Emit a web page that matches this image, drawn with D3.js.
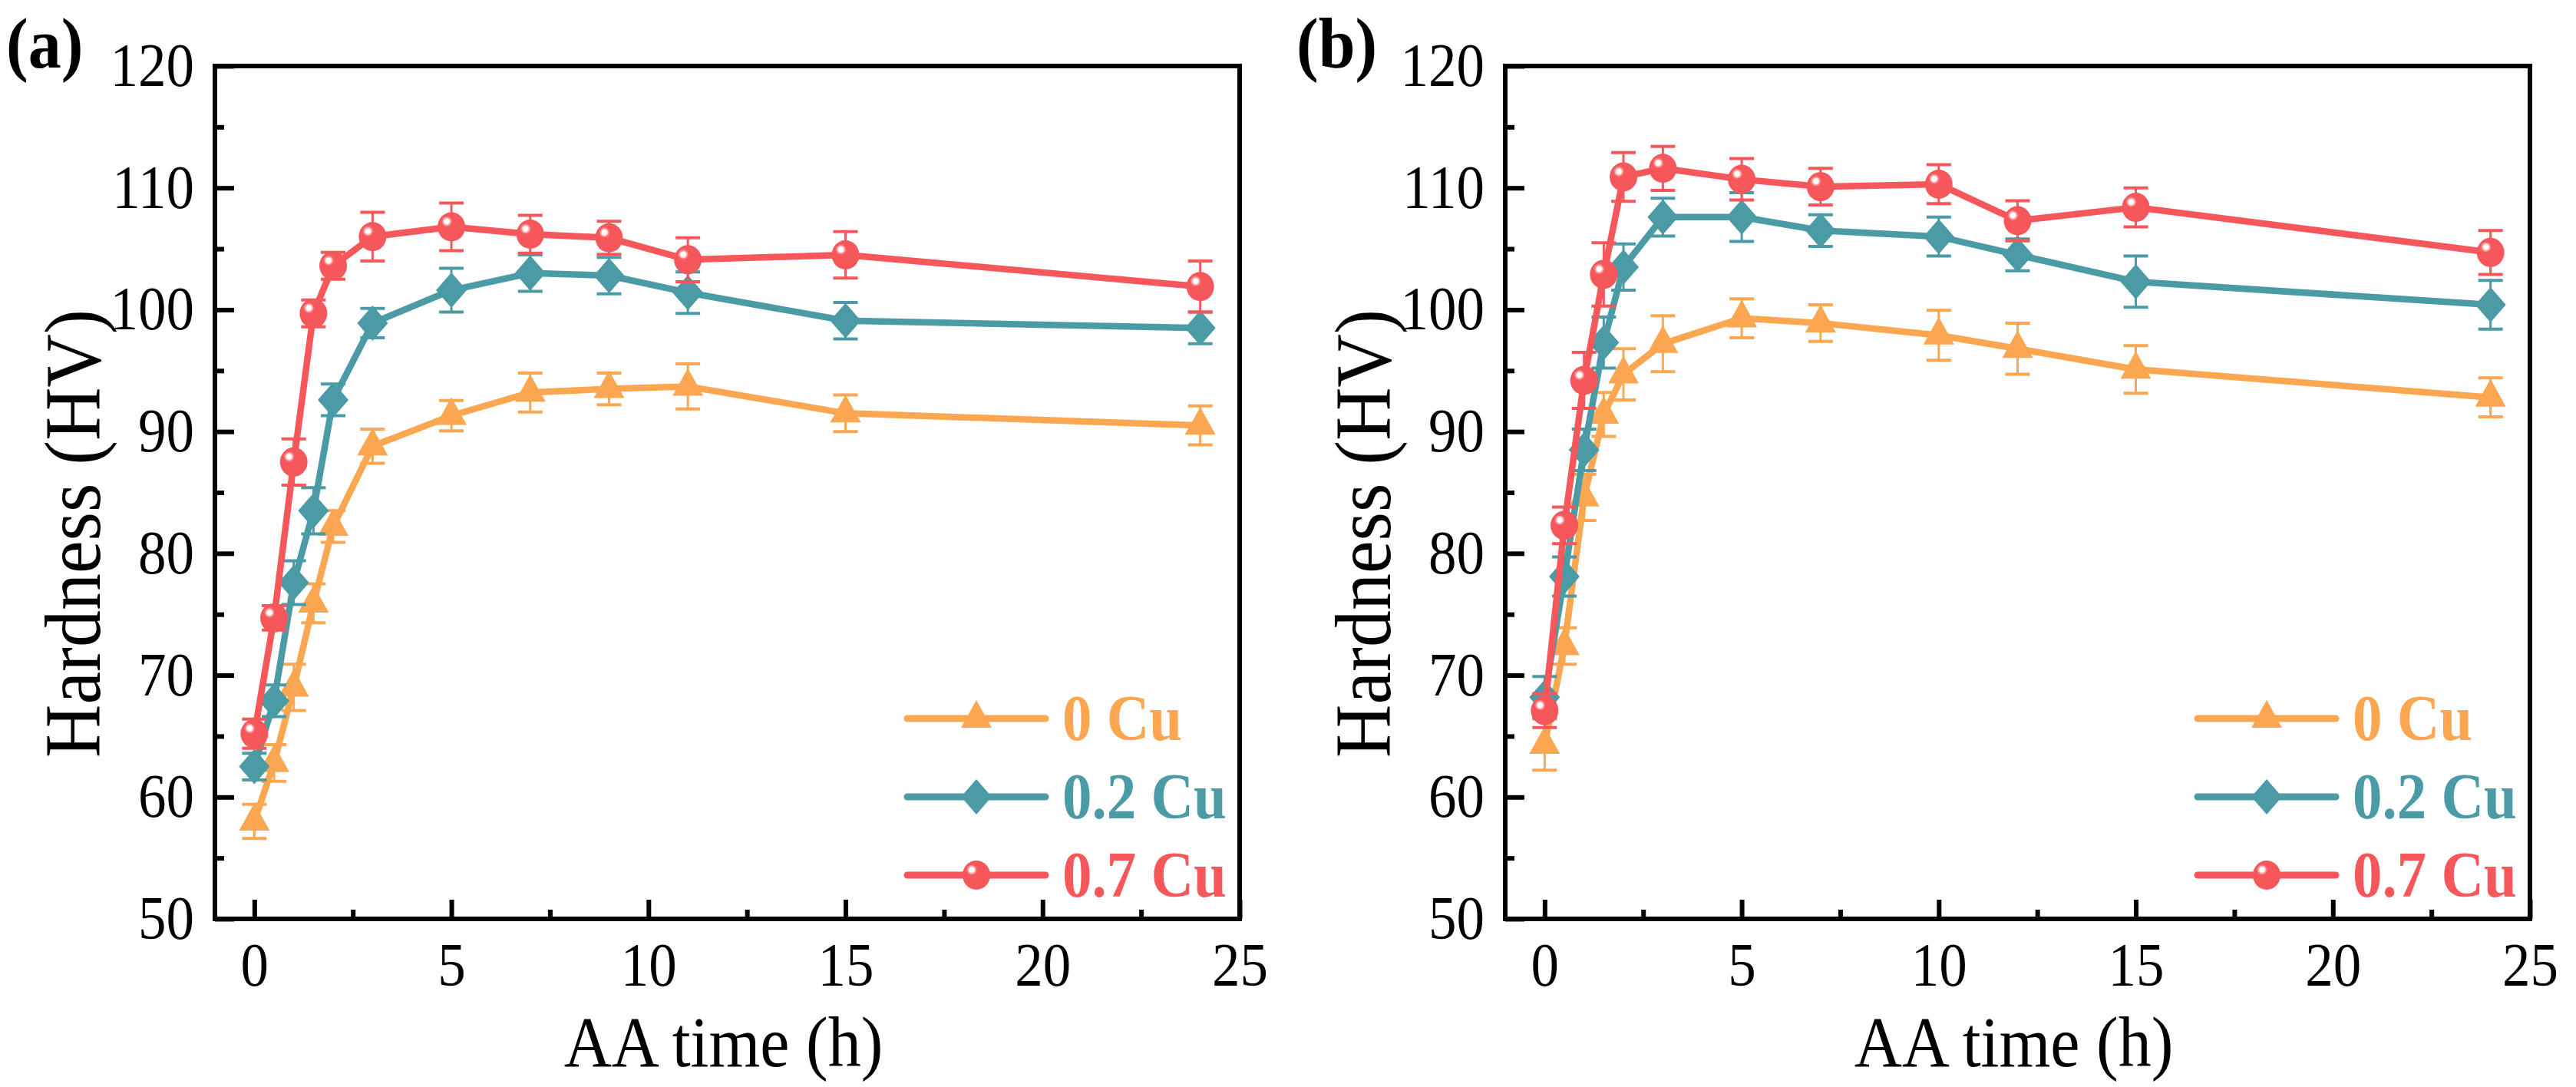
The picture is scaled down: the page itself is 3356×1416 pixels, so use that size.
<!DOCTYPE html>
<html>
<head>
<meta charset="utf-8">
<script src="https://cdn.jsdelivr.net/npm/d3@7"></script>
<style>
  html, body { margin: 0; padding: 0; background: #fff; }
</style>
</head>
<body>
<div id="chart"></div>
<script>
// ---- data ----
const timesA = [0, 0.5, 1, 1.5, 2, 3, 5, 7, 9, 11, 15, 24];
const timesB = [0, 0.5, 1, 1.5, 2, 3, 5, 7, 10, 12, 15, 24];

const cu0A    = [58.0, 62.8, 69.0, 75.9, 82.2, 88.8, 91.3, 93.2, 93.5, 93.7, 91.5, 90.5];
const cu0AErr = [1.4, 1.5, 1.9, 1.6, 1.3, 1.4, 1.25, 1.6, 1.3, 1.85, 1.5, 1.6];
const cu02A    = [62.5, 67.9, 77.6, 83.5, 92.6, 98.9, 101.6, 103.0, 102.8, 101.4, 99.1, 98.5];
const cu02AErr = [1.1, 1.3, 1.8, 1.9, 1.3, 1.2, 1.8, 1.5, 1.5, 1.7, 1.5, 1.3];
const cu07A    = [65.2, 74.7, 87.5, 99.7, 103.6, 106.0, 106.8, 106.2, 105.9, 104.1, 104.5, 101.9];
const cu07AErr = [1.2, 1.0, 1.9, 1.1, 1.1, 2.0, 1.95, 1.55, 1.35, 1.8, 1.9, 2.1];

const cu0B    = [64.3, 72.4, 84.6, 91.4, 94.7, 97.2, 99.3, 98.9, 97.9, 96.8, 95.1, 92.8];
const cu0BErr = [2.1, 1.5, 1.9, 1.8, 2.1, 2.3, 1.6, 1.5, 2.05, 2.1, 1.95, 1.6];
const cu02B    = [68.2, 78.1, 88.5, 97.3, 103.5, 107.6, 107.6, 106.5, 106.0, 104.5, 102.3, 100.4];
const cu02BErr = [1.7, 1.6, 1.7, 2.1, 1.9, 1.55, 2.0, 1.3, 1.6, 1.3, 2.1, 2.0];
const cu07B    = [67.1, 82.3, 94.2, 102.9, 110.9, 111.6, 110.7, 110.1, 110.3, 107.3, 108.4, 104.7];
const cu07BErr = [1.4, 1.5, 2.3, 2.6, 2.0, 1.8, 1.7, 1.5, 1.6, 1.65, 1.6, 1.8];

const seriesNames = ['0 Cu', '0.2 Cu', '0.7 Cu'];
const seriesColors = ['#FBA651', '#4B9BA6', '#F5575A'];
const seriesShapes = ['triangle', 'diamond', 'sphere'];

const xTicks = [0, 5, 10, 15, 20, 25];
const xMinor = [2.5, 7.5, 12.5, 17.5, 22.5];
const yTicks = [50, 60, 70, 80, 90, 100, 110, 120];
const yMinor = [55, 65, 75, 85, 95, 105, 115];

const panels = [
    { label: '(a)', left: 280, times: timesA,
      values: [cu0A, cu02A, cu07A], errors: [cu0AErr, cu02AErr, cu07AErr] },
    { label: '(b)', left: 1961, times: timesB,
      values: [cu0B, cu02B, cu07B], errors: [cu0BErr, cu02BErr, cu07BErr] }
];

// ---- layout ----
const svgWidth = 3356, svgHeight = 1416;
const plotW = 1335, plotTop = 86, plotBottom = 1197;
const FONT = 'Liberation Serif';
const stretch = 1.09; // glyphs in the figure are a bit taller than wide

const svg = d3.select('#chart').append('svg')
    .attr('width', svgWidth)
    .attr('height', svgHeight)
    .attr('font-family', FONT);

// glossy highlight for the sphere markers
const defs = svg.append('defs');
const glow = defs.append('radialGradient').attr('id', 'shine');
glow.append('stop').attr('offset', '0%').attr('stop-color', '#ffffff');
glow.append('stop').attr('offset', '35%').attr('stop-color', '#ffffff');
glow.append('stop').attr('offset', '55%').attr('stop-color', '#fbc0c1');
glow.append('stop').attr('offset', '100%').attr('stop-color', '#f5575a').attr('stop-opacity', 0);

function drawMarker(g, shape, color) {
    if (shape === 'triangle') {
        const w = 40, h = 36;
        g.append('path')
            .attr('d', `M0,${-2 * h / 3}L${w / 2},${h / 3}L${-w / 2},${h / 3}Z`)
            .attr('fill', color);
    } else if (shape === 'diamond') {
        g.append('path')
            .attr('d', 'M0,-23L20,0L0,23L-20,0Z')
            .attr('fill', color);
    } else {
        g.append('ellipse').attr('rx', 18).attr('ry', 19).attr('fill', color);
        g.append('circle').attr('cx', -6).attr('cy', -7).attr('r', 8).attr('fill', 'url(#shine)');
    }
}

function addText(g, x, y, str, size, opts = {}) {
    return g.append('text')
        .attr('transform', `translate(${x},${y}) ${opts.rotate ? 'rotate(-90)' : ''} scale(1,${stretch})`)
        .attr('text-anchor', opts.anchor || 'start')
        .attr('font-family', FONT)
        .attr('font-size', size)
        .attr('font-weight', opts.bold ? 'bold' : 'normal')
        .attr('fill', opts.color || '#000')
        .text(str);
}

function drawPanel(p) {
    const x = d3.scaleLinear().domain([-1, 25]).range([p.left, p.left + plotW]);
    const y = d3.scaleLinear().domain([50, 120]).range([plotBottom, plotTop]);

    const g = svg.append('g');

    // axes (ticks point inward, only on left and bottom)
    const xAxis = g.append('g')
        .attr('transform', `translate(0,${plotBottom})`)
        .call(d3.axisBottom(x).tickValues(xTicks).tickSizeInner(-25).tickSizeOuter(0).tickPadding(28));
    const xAxisMinor = g.append('g')
        .attr('transform', `translate(0,${plotBottom})`)
        .call(d3.axisBottom(x).tickValues(xMinor).tickSizeInner(-12).tickSizeOuter(0).tickFormat(''));
    const yAxis = g.append('g')
        .attr('transform', `translate(${p.left},0)`)
        .call(d3.axisLeft(y).tickValues(yTicks).tickSizeInner(-25).tickSizeOuter(0).tickPadding(27));
    const yAxisMinor = g.append('g')
        .attr('transform', `translate(${p.left},0)`)
        .call(d3.axisLeft(y).tickValues(yMinor).tickSizeInner(-12).tickSizeOuter(0).tickFormat(''));

    for (let a of [xAxis, xAxisMinor, yAxis, yAxisMinor]) {
        a.attr('font-family', FONT).attr('font-size', 73);
        a.select('.domain').remove();
        a.selectAll('.tick line').attr('stroke', '#000').attr('stroke-width', 6);
        a.selectAll('.tick text')
            .attr('fill', '#000')
            .attr('transform', `scale(1,${stretch})`);
    }

    // frame
    g.append('rect')
        .attr('x', p.left)
        .attr('y', plotTop)
        .attr('width', plotW)
        .attr('height', plotBottom - plotTop)
        .attr('fill', 'none')
        .attr('stroke', '#000')
        .attr('stroke-width', 6);

    // series: line, error bars, markers (red drawn last, on top)
    const line = d3.line()
        .x(d => x(d[0]))
        .y(d => y(d[1]));

    p.values.forEach((vals, i) => {
        const color = seriesColors[i];
        const pts = p.times.map((t, k) => [t, vals[k], p.errors[i][k]]);
        const sg = g.append('g');

        sg.append('path')
            .datum(pts)
            .attr('d', line)
            .attr('fill', 'none')
            .attr('stroke', color)
            .attr('stroke-width', 8.5)
            .attr('stroke-linejoin', 'round');

        const eb = sg.selectAll('.err')
            .data(pts)
            .enter()
            .append('g')
            .attr('stroke', color);
        eb.append('line')
            .attr('x1', d => x(d[0])).attr('x2', d => x(d[0]))
            .attr('y1', d => y(d[1] - d[2])).attr('y2', d => y(d[1] + d[2]))
            .attr('stroke-width', 3);
        eb.append('line')
            .attr('x1', d => x(d[0]) - 16).attr('x2', d => x(d[0]) + 16)
            .attr('y1', d => y(d[1] + d[2])).attr('y2', d => y(d[1] + d[2]))
            .attr('stroke-width', 4);
        eb.append('line')
            .attr('x1', d => x(d[0]) - 16).attr('x2', d => x(d[0]) + 16)
            .attr('y1', d => y(d[1] - d[2])).attr('y2', d => y(d[1] - d[2]))
            .attr('stroke-width', 4);

        sg.selectAll('.mk')
            .data(pts)
            .enter()
            .append('g')
            .attr('transform', d => `translate(${x(d[0])},${y(d[1])})`)
            .each(function () { drawMarker(d3.select(this), seriesShapes[i], color); });
    });

    // legend
    const legendRows = [936, 1038, 1140];
    seriesNames.forEach((name, i) => {
        const lx = p.left + 902;
        const lg = g.append('g');
        lg.append('line')
            .attr('x1', lx).attr('x2', lx + 180)
            .attr('y1', legendRows[i]).attr('y2', legendRows[i])
            .attr('stroke', seriesColors[i])
            .attr('stroke-width', 9)
            .attr('stroke-linecap', 'round');
        const mk = lg.append('g').attr('transform', `translate(${lx + 90},${legendRows[i]})`);
        drawMarker(mk, seriesShapes[i], seriesColors[i]);
        addText(lg, lx + 202, legendRows[i] + 28, name, 77, { bold: true, color: seriesColors[i] });
    });

    // titles
    addText(g, p.left + plotW / 2 - 5, 1389, 'AA time (h)', 86, { anchor: 'middle' });
    addText(g, p.left - 150, 695, 'Hardness (HV)', 96, { anchor: 'middle', rotate: true });
    addText(g, p.left - 272, 88, p.label, 86, { bold: true });
}

panels.forEach(drawPanel);
</script>
</body>
</html>
